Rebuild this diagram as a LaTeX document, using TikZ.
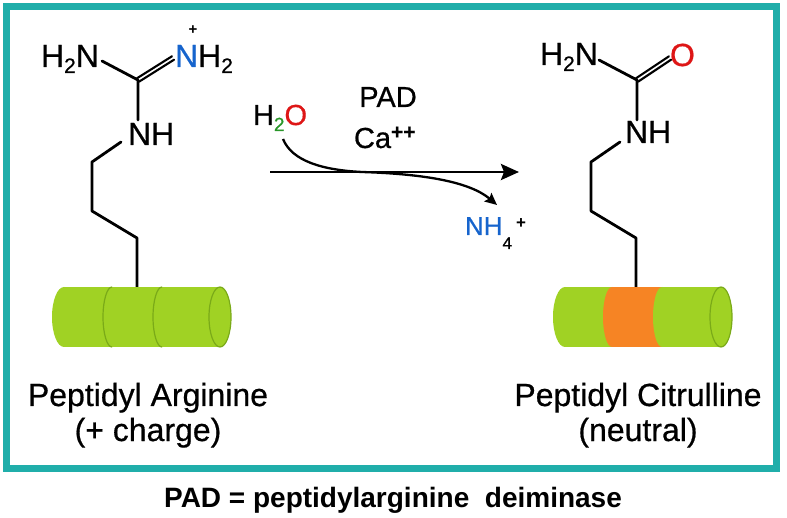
\documentclass[tikz,border=0pt]{standalone}
\usepackage{fontspec}
\setmainfont{Liberation Sans}
\newfontfamily\medfont{Liberation Sans}[FakeBold=0.6]
\usetikzlibrary{arrows.meta,calc}
\definecolor{frameteal}{RGB}{32,174,170}
\definecolor{limefill}{RGB}{160,210,36}
\definecolor{limeline}{RGB}{122,170,24}
\definecolor{bandorange}{RGB}{246,132,36}
\definecolor{nblue}{RGB}{22,100,205}
\definecolor{ored}{RGB}{222,22,22}
\definecolor{sgreen}{RGB}{40,150,40}
\newcommand\chsub[2][21]{\raisebox{-6pt}{\fontsize{#1}{#1}\selectfont #2}}
\begin{document}
\begin{tikzpicture}[x=1pt,y=-1pt,
  chem/.style={inner sep=0pt, outer sep=0pt, anchor=base west, font=\medfont\fontsize{32}{32}\selectfont},
  midtext/.style={inner sep=0pt, outer sep=0pt, font=\medfont\fontsize{29}{29}\selectfont},
  lbl/.style={inner sep=0pt, outer sep=0pt, anchor=base, font=\medfont\fontsize{32}{32}\selectfont},
  bond/.style={line width=2.8pt, black, line cap=round, line join=round},
  dbond/.style={line width=2.1pt, black, line cap=round},
  seam/.style={draw=limeline, line width=1.2pt}]
\useasboundingbox (0,0) rectangle (787,518);
\fill[white] (0,0) rectangle (787,518);
\draw[frameteal, line width=7.5pt] (6.5,6.5) rectangle (776.5,468.5);

% ---------- left molecule (arginine) ----------
\node[chem] (lh2n) at (41,67) {H\chsub{2}N};
\node[chem, text=nblue] (lnp) at (175,67) {N};
\node[chem] (lh2) at (lnp.base east) {H\chsub{2}};
\node[inner sep=0pt, font=\fontsize{15}{15}\selectfont\bfseries] (lplus) at (193,30) {+};
\node[chem] (lnh) at (128,145) {NH};
\coordinate (lb1) at (102,61);
\coordinate (lC) at (138,80);
\coordinate (ldb) at (173,58);
\coordinate (lv) at (138,120);
\coordinate (lc1) at (121,142);
\coordinate (lc2) at (92,162);
\coordinate (lc3) at (92,211);
\coordinate (lc4) at (137,238);
\coordinate (lc5) at (137,287);
\draw[bond] (lb1) -- (lC) -- (lv);
\draw[dbond] ($(lC)!2pt!90:(ldb)$) -- ($(ldb)!2pt!-90:(lC)$);
\draw[dbond] ($(lC)!2pt!-90:(ldb)$) -- ($(ldb)!2pt!90:(lC)$);
\draw[bond] (lc1) -- (lc2) -- (lc3) -- (lc4) -- (lc5);

% ---------- right molecule (citrulline) ----------
\node[chem] (rh2n) at (540,65) {H\chsub{2}N};
\node[chem, text=ored] (ro) at (670,66) {O};
\node[chem] (rnh) at (625,143) {NH};
\coordinate (rb1) at (599,60);
\coordinate (rC) at (637,80);
\coordinate (rdb) at (670,58);
\coordinate (rv) at (637,120);
\coordinate (rc1) at (620,142);
\coordinate (rc2) at (591,162);
\coordinate (rc3) at (591,211);
\coordinate (rc4) at (636,238);
\coordinate (rc5) at (636,287);
\draw[bond] (rb1) -- (rC) -- (rv);
\draw[dbond] ($(rC)!2pt!90:(rdb)$) -- ($(rdb)!2pt!-90:(rC)$);
\draw[dbond] ($(rC)!2pt!-90:(rdb)$) -- ($(rdb)!2pt!90:(rC)$);
\draw[bond] (rc1) -- (rc2) -- (rc3) -- (rc4) -- (rc5);

% ---------- left cylinder ----------
\fill[limefill] (64,287) rectangle (220,347);
\fill[limefill] (64,317) ellipse [x radius=12pt, y radius=30pt];
\fill[limefill] (220,317) ellipse [x radius=11pt, y radius=30pt];
\draw[seam] (220,317) ellipse [x radius=11pt, y radius=30pt];
\foreach \cx in {112,162}{
  \begin{scope}
    \clip (\cx-20,280) rectangle (\cx,354);
    \draw[seam] (\cx,317) ellipse [x radius=9pt, y radius=30pt];
  \end{scope}}

% ---------- right cylinder ----------
\fill[limefill] (565,287) rectangle (721,347);
\fill[limefill] (565,317) ellipse [x radius=12pt, y radius=30pt];
\fill[limefill] (721,317) ellipse [x radius=11pt, y radius=30pt];
\fill[bandorange] (612,287) rectangle (662,347);
\begin{scope}
  \clip (590,280) rectangle (612,354);
  \fill[bandorange] (612,317) ellipse [x radius=9pt, y radius=30pt];
\end{scope}
\begin{scope}
  \clip (640,280) rectangle (662,354);
  \fill[limefill] (662,317) ellipse [x radius=9pt, y radius=30pt];
\end{scope}
\draw[seam] (721,317) ellipse [x radius=11pt, y radius=30pt];

% ---------- reaction arrow ----------
\node[midtext, anchor=base west] (h2o) at (253,125) {H\textcolor{sgreen}{\chsub[19]{2}}\textcolor{ored}{O}};
\node[midtext, anchor=base] (pad) at (388,107) {PAD};
\node[midtext, anchor=base west] (ca) at (354,148) {Ca\raisebox{9pt}{\fontsize{21}{21}\selectfont\bfseries ++}};
\node[inner sep=0pt, outer sep=0pt, anchor=base west, font=\medfont\fontsize{26}{26}\selectfont] (nh4) at (465,235) {\textcolor{nblue}{NH}\raisebox{-14pt}{\fontsize{17}{17}\selectfont 4}};
\node[inner sep=0pt, font=\fontsize{17}{17}\selectfont\bfseries] (nh4p) at (521,224) {+};
\coordinate (a1) at (270,172);
\coordinate (a2) at (519,172);
\draw[line width=2.8pt, -{Stealth[length=18pt,width=16pt,inset=3pt]}] (a1) -- (a2);
\coordinate (w1) at (283,139);
\coordinate (wm) at (362,172);
\coordinate (w2) at (497,205);
\draw[line width=2.3pt, -{Stealth[length=12pt,width=11pt,inset=2pt]}] (w1) .. controls (292,161) and (322,170) .. (wm) .. controls (425,174) and (470,182) .. (w2);

% ---------- labels ----------
\node[lbl] (lname) at (148,406) {Peptidyl Arginine};
\node[lbl] (lcharge) at (148,441) {(+ charge)};
\node[lbl] (rname) at (638,406) {Peptidyl Citrulline};
\node[lbl] (rcharge) at (638,441) {(neutral)};
\node[inner sep=0pt, anchor=base, font=\fontsize{28}{28}\selectfont\bfseries] (caption) at (393,507) {PAD = peptidylarginine\ \ deiminase};
\end{tikzpicture}
\end{document}
